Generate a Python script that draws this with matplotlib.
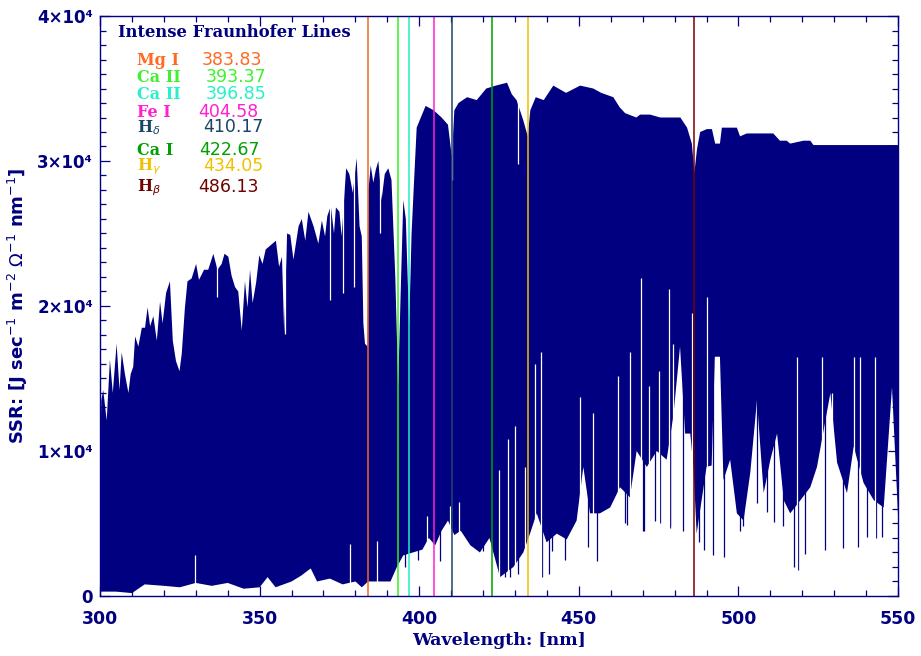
"""Solar spectral radiance 300-550 nm with intense Fraunhofer lines."""

import matplotlib

matplotlib.use("Agg")
import matplotlib.pyplot as plt
import numpy as np
from matplotlib.ticker import MultipleLocator

NAVY = "#000080"

# upper envelope of the spectrum (nm, 1e4 units)
upper_wl = [300.0, 300.4, 301.0, 302.1, 303.1, 304.0, 305.2, 306.1, 306.8, 307.8,
            308.9, 309.6, 310.4, 311.0, 312.0, 313.1, 314.1, 314.9, 315.7, 316.7,
            317.8, 318.8, 319.6, 320.7, 321.9, 322.8, 323.8, 324.9, 325.6, 326.6,
            327.4, 328.7, 330.1, 331.0, 332.6, 333.9, 335.5, 336.8, 338.1, 339.0,
            340.2, 341.2, 342.3, 343.3, 344.4, 345.4, 346.2, 347.0, 347.8, 348.9,
            349.9, 350.9, 351.9, 353.5, 355.1, 356.1, 357.0, 357.7, 358.6, 359.6,
            360.6, 362.2, 363.2, 364.3, 365.3, 366.9, 368.4, 369.5, 370.5, 371.2,
            372.3, 373.3, 373.9, 375.0, 375.7, 377.1, 378.1, 379.2, 380.4, 381.3,
            382.0, 382.5, 383.0, 383.8, 384.1, 384.8, 385.6, 386.4, 387.2, 388.2,
            389.2, 390.3, 391.3, 392.5, 393.4, 394.2, 395.0, 395.8, 396.85, 397.6,
            398.2, 399.2, 400.5, 402.0, 404.5, 407.0, 409.0, 410.2, 411.0, 412.3,
            415.0, 418.0, 421.0, 424.0, 427.5, 429.0, 430.5, 432.6, 434.0, 434.8,
            436.5, 439.0, 442.0, 446.0, 450.4, 454.5, 457.0, 460.8, 462.8, 464.5,
            468.0, 469.2, 472.3, 475.5, 481.8, 483.9, 485.4, 486.2, 487.0, 488.0,
            490.1, 491.7, 492.7, 494.2, 494.8, 499.5, 500.5, 502.6, 510.9, 513.0,
            515.1, 516.2, 520.4, 522.5, 523.5, 550.0]
upper_val = [0.85, 1.35, 1.42, 1.21, 1.63, 1.40, 1.74, 1.42, 1.68, 1.53,
             1.40, 1.53, 1.58, 1.79, 1.72, 1.85, 1.85, 1.99, 1.86, 1.93,
             1.76, 2.03, 1.88, 2.09, 2.17, 1.76, 1.62, 1.55, 1.67, 1.99,
             2.17, 2.19, 2.29, 2.18, 2.25, 2.25, 2.36, 2.25, 2.29, 2.36,
             2.34, 2.21, 2.13, 2.10, 1.83, 2.17, 1.99, 2.25, 2.02, 2.16,
             2.35, 2.29, 2.39, 2.42, 2.45, 2.27, 2.34, 1.81, 2.50, 2.49,
             2.32, 2.55, 2.60, 2.45, 2.65, 2.55, 2.43, 2.59, 2.48, 2.62,
             2.69, 2.50, 2.68, 2.65, 2.48, 2.95, 2.91, 2.78, 3.02, 2.55,
             2.48, 1.88, 1.74, 1.72, 2.80, 2.97, 2.85, 2.94, 3.00, 2.73,
             2.91, 2.95, 2.87, 2.20, 1.45, 2.10, 2.73, 2.60, 1.86, 2.50,
             2.78, 3.23, 3.30, 3.38, 3.35, 3.30, 3.25, 3.03, 3.35, 3.40,
             3.44, 3.42, 3.50, 3.52, 3.54, 3.46, 3.42, 3.28, 3.17, 3.35,
             3.44, 3.42, 3.52, 3.47, 3.52, 3.50, 3.47, 3.44, 3.37, 3.33,
             3.30, 3.32, 3.32, 3.30, 3.30, 3.23, 3.12, 2.92, 3.08, 3.20,
             3.22, 3.22, 3.12, 3.12, 3.23, 3.23, 3.17, 3.19, 3.19, 3.14,
             3.14, 3.12, 3.14, 3.14, 3.11, 3.11]

# lower edge of the dense part of the spectrum (nm, 1e4 units)
lower_wl = [300.0, 305.0, 310.0, 314.0, 320.0, 325.0, 330.0, 335.0, 340.0, 345.0,
            350.0, 352.5, 355.0, 360.0, 363.0, 366.0, 368.0, 372.0, 376.0, 380.0,
            382.0, 384.0, 388.0, 391.0, 393.0, 395.0, 398.0, 401.0, 403.0, 405.0,
            407.0, 409.0, 411.0, 413.0, 416.0, 419.0, 422.0, 425.3, 429.5, 432.6,
            434.7, 436.8, 439.9, 443.1, 446.2, 449.3, 451.4, 453.5, 456.6, 459.8,
            462.9, 466.0, 468.1, 471.3, 474.4, 477.5, 479.6, 481.7, 483.3, 484.9,
            485.9, 486.9, 490.0, 491.6, 492.6, 494.2, 495.3, 497.4, 499.5, 501.6,
            503.7, 505.8, 507.9, 510.0, 512.1, 514.2, 516.2, 519.4, 522.5, 524.6,
            528.8, 530.9, 534.0, 536.1, 539.2, 542.4, 545.5, 548.1, 550.0]
lower_val = [0.03, 0.03, 0.02, 0.08, 0.07, 0.06, 0.09, 0.07, 0.09, 0.05,
             0.06, 0.13, 0.06, 0.10, 0.14, 0.19, 0.10, 0.12, 0.08, 0.10,
             0.06, 0.10, 0.10, 0.10, 0.20, 0.28, 0.30, 0.32, 0.40, 0.35,
             0.45, 0.52, 0.42, 0.45, 0.35, 0.30, 0.40, 0.13, 0.20, 0.30,
             0.43, 0.57, 0.37, 0.43, 0.39, 0.52, 0.89, 0.57, 0.57, 0.61,
             0.75, 0.68, 1.00, 0.89, 1.00, 0.94, 1.24, 1.72, 1.12, 1.12,
             0.89, 0.43, 0.89, 0.90, 1.65, 1.65, 0.80, 0.94, 0.57, 0.52,
             0.85, 1.35, 0.71, 0.94, 1.12, 0.66, 0.57, 0.66, 0.75, 0.89,
             1.40, 0.92, 0.71, 1.03, 0.78, 0.66, 0.61, 1.44, 0.55]

# deep absorption lines reaching below the dense part (nm, 1e4 units)
dip_wl = [395.5, 399.7, 406.5, 420.1, 425.3, 426.9, 428.4, 431.0, 438.4, 440.7,
          441.6, 445.7, 453.0, 455.6, 464.5, 465.1, 470.2, 470.5, 473.9, 475.4,
          478.5, 478.6, 482.5, 487.5, 489.1, 492.0, 495.6, 500.5, 501.4, 505.8,
          508.9, 511.0, 514.1, 517.3, 518.5, 520.9, 527.2, 532.9, 537.4, 540.2,
          543.2, 544.9]
dip_val = [0.20, 0.25, 0.24, 0.31, 0.27, 0.13, 0.13, 0.15, 0.13, 0.15,
           0.31, 0.25, 0.34, 0.24, 0.50, 0.49, 0.45, 0.45, 0.52, 0.50,
           0.48, 0.47, 0.45, 0.37, 0.32, 0.28, 0.27, 0.45, 0.48, 0.64,
           0.58, 0.51, 0.48, 0.20, 0.18, 0.29, 0.32, 0.33, 0.34, 0.41,
           0.40, 0.41]

# gaps rising from below into the dense part (nm, 1e4 units)
gap_low_wl = [329.8, 378.2, 386.9, 402.5, 409.5, 412.5, 425.0, 427.9, 429.9, 433.1,
              436.3, 438.2, 450.4, 454.3, 462.4, 466.0, 469.6, 471.9, 475.0, 478.2,
              479.6, 481.0, 485.4, 490.0, 518.3, 526.1, 529.2, 536.1, 538.2, 542.9]
gap_low_val = [0.28, 0.36, 0.38, 0.55, 0.62, 0.65, 0.87, 1.08, 1.17, 0.89,
               1.60, 1.68, 1.37, 1.26, 1.52, 1.68, 2.19, 1.45, 1.55, 2.12,
               1.74, 1.45, 1.95, 2.06, 1.65, 1.65, 1.40, 1.65, 1.65, 1.65]

# notches cutting down from the top of the spectrum (nm, 1e4 units)
gap_top_wl = [336.8, 358.0, 372.0, 376.2, 379.6, 387.8, 410.2, 431.0]
gap_top_val = [2.06, 1.81, 2.04, 2.09, 2.13, 2.50, 2.87, 2.98]

# intense Fraunhofer lines
line_names = ["Mg I", "Ca II", "Ca II", "Fe I", r"H$_\delta$", "Ca I", r"H$_\gamma$", r"H$_\beta$"]
line_wl = [383.83, 393.37, 396.85, 404.58, 410.17, 422.67, 434.05, 486.13]
line_colors = ["#F06A20", "#33F020", "#22EEC4", "#FF22D2", "#1E4868", "#00A000", "#EEC000", "#780000"]
line_text_colors = ["#FF6A20", "#40F030", "#28F0C8", "#FF20D0", "#1A4466", "#00A000", "#F0C000", "#700000"]

y_ticks = [0, 1e4, 2e4, 3e4, 4e4]
y_tick_labels = ["0", "1×10⁴", "2×10⁴", "3×10⁴", "4×10⁴"]
x_ticks = [300, 350, 400, 450, 500, 550]

scale = 1e4

fig = plt.figure(figsize=(9.21, 6.56), dpi=100)
ax = fig.add_axes([0.1086, 0.0915, 0.8665, 0.8841])

# dense spectrum body as polygon between the two envelopes
poly_x = np.concatenate([upper_wl, lower_wl[::-1]])
poly_y = np.concatenate([upper_val, lower_val[::-1]]) * scale
ax.fill(poly_x, poly_y, color=NAVY, linewidth=0, zorder=1)

ax.vlines(dip_wl, np.array(dip_val) * scale, 1.6 * scale, color=NAVY, linewidth=0.9, zorder=1.2)
ax.vlines(gap_low_wl, 0, np.array(gap_low_val) * scale, color="white", linewidth=0.9, zorder=1.4)
ax.vlines(gap_top_wl, np.array(gap_top_val) * scale, 4.0 * scale, color="white", linewidth=0.9, zorder=1.4)

for wl, c in zip(line_wl, line_colors):
    ax.axvline(wl, color=c, linewidth=1.1, zorder=1.8)

ax.set_xlim(300, 550)
ax.set_ylim(0, 4e4)
ax.set_xticks(x_ticks)
ax.set_xticklabels([str(v) for v in x_ticks])
ax.set_yticks(y_ticks)
ax.set_yticklabels(y_tick_labels)
ax.xaxis.set_minor_locator(MultipleLocator(10))
ax.yaxis.set_minor_locator(MultipleLocator(1000))

for side in ax.spines.values():
    side.set_color(NAVY)
    side.set_linewidth(1.0)
ax.tick_params(which="both", direction="in", top=True, right=True, color=NAVY, width=0.9)
ax.tick_params(which="major", length=7)
ax.tick_params(which="minor", length=4)
ax.tick_params(axis="x", which="major", pad=10, labelsize=12.5, labelcolor=NAVY)
ax.tick_params(axis="y", which="major", pad=5, labelsize=12, labelcolor=NAVY)
for lab in ax.get_xticklabels() + ax.get_yticklabels():
    lab.set_fontweight("bold")

ax.set_xlabel("Wavelength: [nm]", family="DejaVu Serif", fontweight="bold",
              fontsize=12.5, color=NAVY, labelpad=3)
ax.set_ylabel(r"SSR: [J sec$^{-1}$ m$^{-2}$ $\Omega^{-1}$ nm$^{-1}$]", fontweight="bold",
              fontsize=13, color=NAVY, labelpad=5)


def to_axes(px, py):
    return (px - 100) / 798, (596 - py) / 580


tx, ty = to_axes(118, 37.3)
ax.text(tx, ty, "Intense Fraunhofer Lines", transform=ax.transAxes, family="DejaVu Serif",
        fontweight="bold", fontsize=11.8, color=NAVY, va="baseline", ha="left", zorder=5)

row_base = [65, 82.3, 99.3, 116.7, 132.3, 155, 170.7, 191.7]
num_left = [201.7, 205.7, 205.7, 198.3, 203.3, 199.3, 203.3, 198.3]
for name, wl, c, yb, xn in zip(line_names, line_wl, line_text_colors, row_base, num_left):
    nx, ny = to_axes(136.7, yb)
    ax.text(nx, ny, name, transform=ax.transAxes, family="DejaVu Serif", fontweight="bold",
            fontsize=11.5, color=c, va="baseline", ha="left", zorder=5)
    vx, vy = to_axes(xn, yb)
    ax.text(vx, vy, f"{wl:.2f}", transform=ax.transAxes, fontsize=12.5, color=c,
            va="baseline", ha="left", zorder=5)

fig.savefig("out.png", dpi=100, facecolor="white")
